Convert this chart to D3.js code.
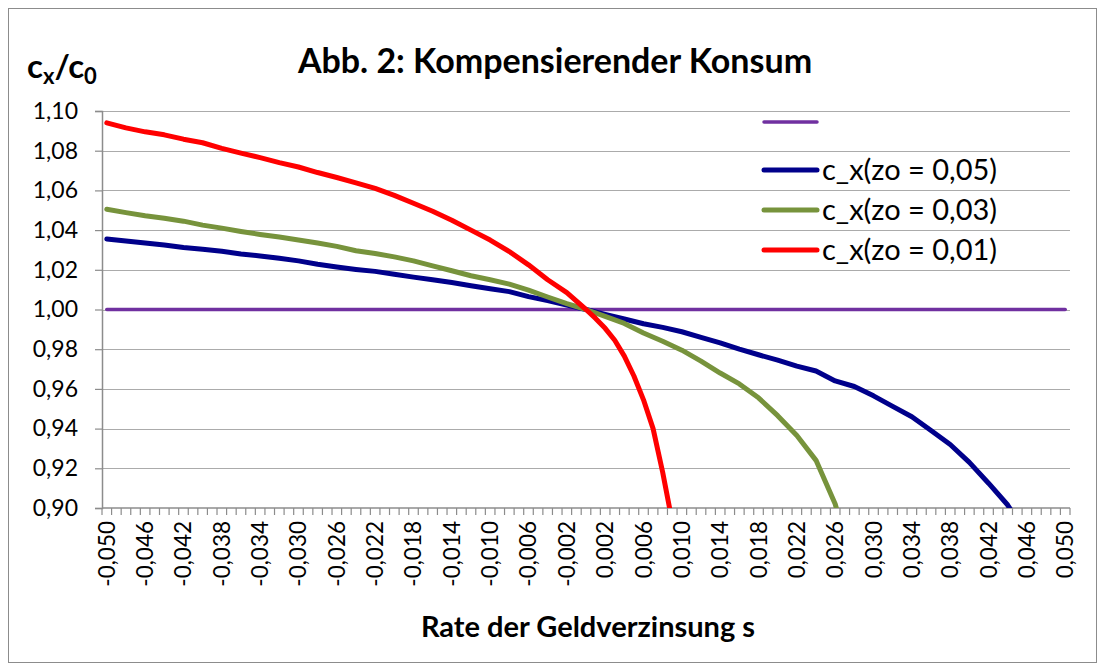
<!DOCTYPE html>
<html>
<head>
<meta charset="utf-8">
<title>Abb. 2: Kompensierender Konsum</title>
<script src="https://cdn.jsdelivr.net/npm/d3@7"></script>
<style>
  body { margin: 0; background: #fff; }
  svg { font-family: Lato, "Open Sans", sans-serif; }
</style>
</head>
<body>
<svg id="chart" width="1105" height="671"></svg>
<script>
// Rate der Geldverzinsung s (category axis, step 0,001)
var categories = d3.range(-50, 51).map(function (i) { return i / 1000; });
var tickLabels = ["-0,050","-0,046","-0,042","-0,038","-0,034","-0,030","-0,026","-0,022","-0,018","-0,014","-0,010","-0,006","-0,002",
                  "0,002","0,006","0,010","0,014","0,018","0,022","0,026","0,030","0,034","0,038","0,042","0,046","0,050"];
var yTicks = [0.90, 0.92, 0.94, 0.96, 0.98, 1.00, 1.02, 1.04, 1.06, 1.08, 1.10];

// reference level c_x/c_0 = 1
var refLevel = 1.00;

// c_x(zo = 0,05)
var sBlue = [-0.050,-0.048,-0.046,-0.044,-0.042,-0.040,-0.038,-0.036,-0.034,-0.032,-0.030,-0.028,-0.026,-0.024,-0.022,-0.020,-0.018,-0.016,-0.014,-0.012,-0.010,-0.008,-0.006,-0.004,-0.002,
             0.000,0.002,0.004,0.006,0.008,0.010,0.012,0.014,0.016,0.018,0.020,0.022,0.024,0.026,0.028,0.030,0.032,0.034,0.036,0.038,0.040,0.042,0.044,0.045];
var vBlue = [1.0355,1.0345,1.0335,1.0325,1.0312,1.0303,1.0293,1.0280,1.0270,1.0258,1.0245,1.0228,1.0214,1.0202,1.0192,1.0178,1.0163,1.0150,1.0136,1.0120,1.0105,1.0090,1.0065,1.0045,1.0022,
             1.0000,0.9975,0.9952,0.9928,0.9910,0.9888,0.9860,0.9832,0.9800,0.9772,0.9745,0.9715,0.9690,0.9640,0.9612,0.9565,0.9512,0.9460,0.9390,0.9320,0.9230,0.9125,0.9015,0.8940];

// c_x(zo = 0,03)
var sGreen = [-0.050,-0.048,-0.046,-0.044,-0.042,-0.040,-0.038,-0.036,-0.034,-0.032,-0.030,-0.028,-0.026,-0.024,-0.022,-0.020,-0.018,-0.016,-0.014,-0.012,-0.010,-0.008,-0.006,-0.004,-0.002,
              0.000,0.002,0.004,0.006,0.008,0.010,0.012,0.014,0.016,0.018,0.020,0.022,0.024,0.026,0.027];
var vGreen = [1.0505,1.0488,1.0472,1.0460,1.0445,1.0425,1.0410,1.0393,1.0378,1.0365,1.0350,1.0335,1.0318,1.0296,1.0282,1.0265,1.0245,1.0220,1.0195,1.0170,1.0150,1.0128,1.0098,1.0063,1.0030,
              1.0000,0.9965,0.9930,0.9882,0.9840,0.9795,0.9740,0.9680,0.9625,0.9555,0.9465,0.9365,0.9240,0.9020,0.8850];

// c_x(zo = 0,01)
var sRed = [-0.050,-0.048,-0.046,-0.044,-0.042,-0.040,-0.038,-0.036,-0.034,-0.032,-0.030,-0.028,-0.026,-0.024,-0.022,-0.020,-0.018,-0.016,-0.014,-0.012,-0.010,-0.008,-0.006,-0.004,-0.002,
            0.000,0.001,0.002,0.003,0.004,0.005,0.006,0.007,0.008,0.009];
var vRed = [1.0940,1.0915,1.0895,1.0880,1.0858,1.0840,1.0812,1.0788,1.0765,1.0740,1.0718,1.0690,1.0665,1.0638,1.0610,1.0575,1.0535,1.0495,1.0450,1.0400,1.0350,1.0292,1.0225,1.0150,1.0085,
            1.0000,0.9955,0.9905,0.9845,0.9765,0.9665,0.9545,0.9400,0.9180,0.8930];

var seriesNames = ["", "c_x(zo = 0,05)", "c_x(zo = 0,03)", "c_x(zo = 0,01)"];
var seriesColors = ["#7030a0", "#00008b", "#77933c", "#ff0000"];

var de = d3.formatLocale({ decimal: ",", thousands: ".", grouping: [3], currency: ["", " €"] });
var fmtY = de.format(".2f");

var svg = d3.select("#chart");
var pLeft = 102, pRight = 1070, pTop = 111, pBottom = 508;

var key = function (s) { return s.toFixed(3); };
var x = d3.scaleBand().domain(categories.map(key)).range([pLeft, pRight]).padding(0);
var y = d3.scaleLinear().domain([0.90, 1.10]).range([pBottom, pTop]);
var cx = function (s) { return x(key(s)) + x.bandwidth() / 2; };

// outer frame
svg.append("rect").attr("x", 8.5).attr("y", 8.5).attr("width", 1088).attr("height", 654)
  .attr("fill", "#fff").attr("stroke", "#8c8c8c").attr("stroke-width", 1);

// gridlines
svg.append("g").selectAll("line").data(yTicks.slice(1)).join("line")
  .attr("x1", pLeft).attr("x2", pRight)
  .attr("y1", function (d) { return Math.round(y(d)) + 0.5; })
  .attr("y2", function (d) { return Math.round(y(d)) + 0.5; })
  .attr("stroke", "#ababab").attr("stroke-width", 1.2);

// y axis
var gy = svg.append("g").attr("transform", "translate(" + pLeft + ",0)")
  .call(d3.axisLeft(y).tickValues(yTicks).tickFormat(fmtY).tickSize(7).tickPadding(17));
gy.select(".domain").attr("stroke", "#8c8c8c").attr("stroke-width", 1.5);
gy.selectAll(".tick line").attr("stroke", "#8c8c8c").attr("stroke-width", 1.2);
gy.selectAll("text").attr("font-size", 23).attr("fill", "#000").attr("font-family", "Lato, sans-serif");

// x axis: ticks between categories, labels every 4th category
var gx = svg.append("g").attr("transform", "translate(0," + pBottom + ")");
gx.append("line").attr("x1", pLeft).attr("x2", pRight).attr("y1", 0).attr("y2", 0)
  .attr("stroke", "#8c8c8c").attr("stroke-width", 1.5);
gx.selectAll("line.tk").data(categories.concat([null])).join("line").attr("class", "tk")
  .attr("x1", function (d, i) { return pLeft + i * x.bandwidth(); })
  .attr("x2", function (d, i) { return pLeft + i * x.bandwidth(); })
  .attr("y1", 0).attr("y2", 7)
  .attr("stroke", "#8c8c8c").attr("stroke-width", 1.2);
gx.selectAll("text").data(tickLabels).join("text")
  .attr("transform", function (d) {
    var s = +d.replace(",", ".");
    return "translate(" + (cx(s) + 8) + ",13) rotate(-90)";
  })
  .attr("text-anchor", "end").attr("font-size", 22.5).attr("fill", "#000")
  .text(function (d) { return d; });

// series lines, clipped to plot area
svg.append("clipPath").attr("id", "plot").append("rect")
  .attr("x", pLeft).attr("y", pTop - 10).attr("width", pRight - pLeft).attr("height", pBottom - pTop + 10);

var line = d3.line().x(function (d) { return cx(d[0]); }).y(function (d) { return y(d[1]); });
var plot = svg.append("g").attr("clip-path", "url(#plot)");

plot.append("path")
  .datum([[categories[0], refLevel], [categories[categories.length - 1], refLevel]])
  .attr("d", line).attr("fill", "none").attr("stroke", seriesColors[0]).attr("stroke-width", 3.5)
  .attr("stroke-linecap", "round");

var series = [[sBlue, vBlue], [sGreen, vGreen], [sRed, vRed]];
series.forEach(function (sr, i) {
  plot.append("path").datum(d3.zip(sr[0], sr[1]))
    .attr("d", line).attr("fill", "none")
    .attr("stroke", seriesColors[i + 1]).attr("stroke-width", 5)
    .attr("stroke-linejoin", "round").attr("stroke-linecap", "round");
});

// title and axis titles
svg.append("text").attr("x", 555).attr("y", 73).attr("text-anchor", "middle")
  .attr("font-size", 34).attr("font-weight", "bold").text("Abb. 2: Kompensierender Konsum");

var yl = svg.append("text").attr("x", 27).attr("y", 78).attr("font-size", 33).attr("font-weight", "bold");
yl.append("tspan").text("c");
yl.append("tspan").attr("font-size", 22).attr("dy", 6).text("x");
yl.append("tspan").attr("dy", -6).text("/c");
yl.append("tspan").attr("font-size", 22).attr("dy", 6).text("0");

svg.append("text").attr("x", 588).attr("y", 637).attr("text-anchor", "middle")
  .attr("font-size", 29).attr("font-weight", "bold").text("Rate der Geldverzinsung s");

// legend
var lg = svg.append("g").selectAll("g").data(seriesNames).join("g")
  .attr("transform", function (d, i) { return "translate(764," + [122, 170, 210, 250][i] + ")"; });
lg.append("line").attr("x1", 0).attr("x2", 53).attr("y1", 0).attr("y2", 0)
  .attr("stroke", function (d, i) { return seriesColors[i]; })
  .attr("stroke-width", function (d, i) { return i === 0 ? 3.5 : 5; })
  .attr("stroke-linecap", "round");
lg.append("text").attr("x", 58).attr("y", 10).attr("font-size", 29).text(function (d) { return d; });
</script>
</body>
</html>
